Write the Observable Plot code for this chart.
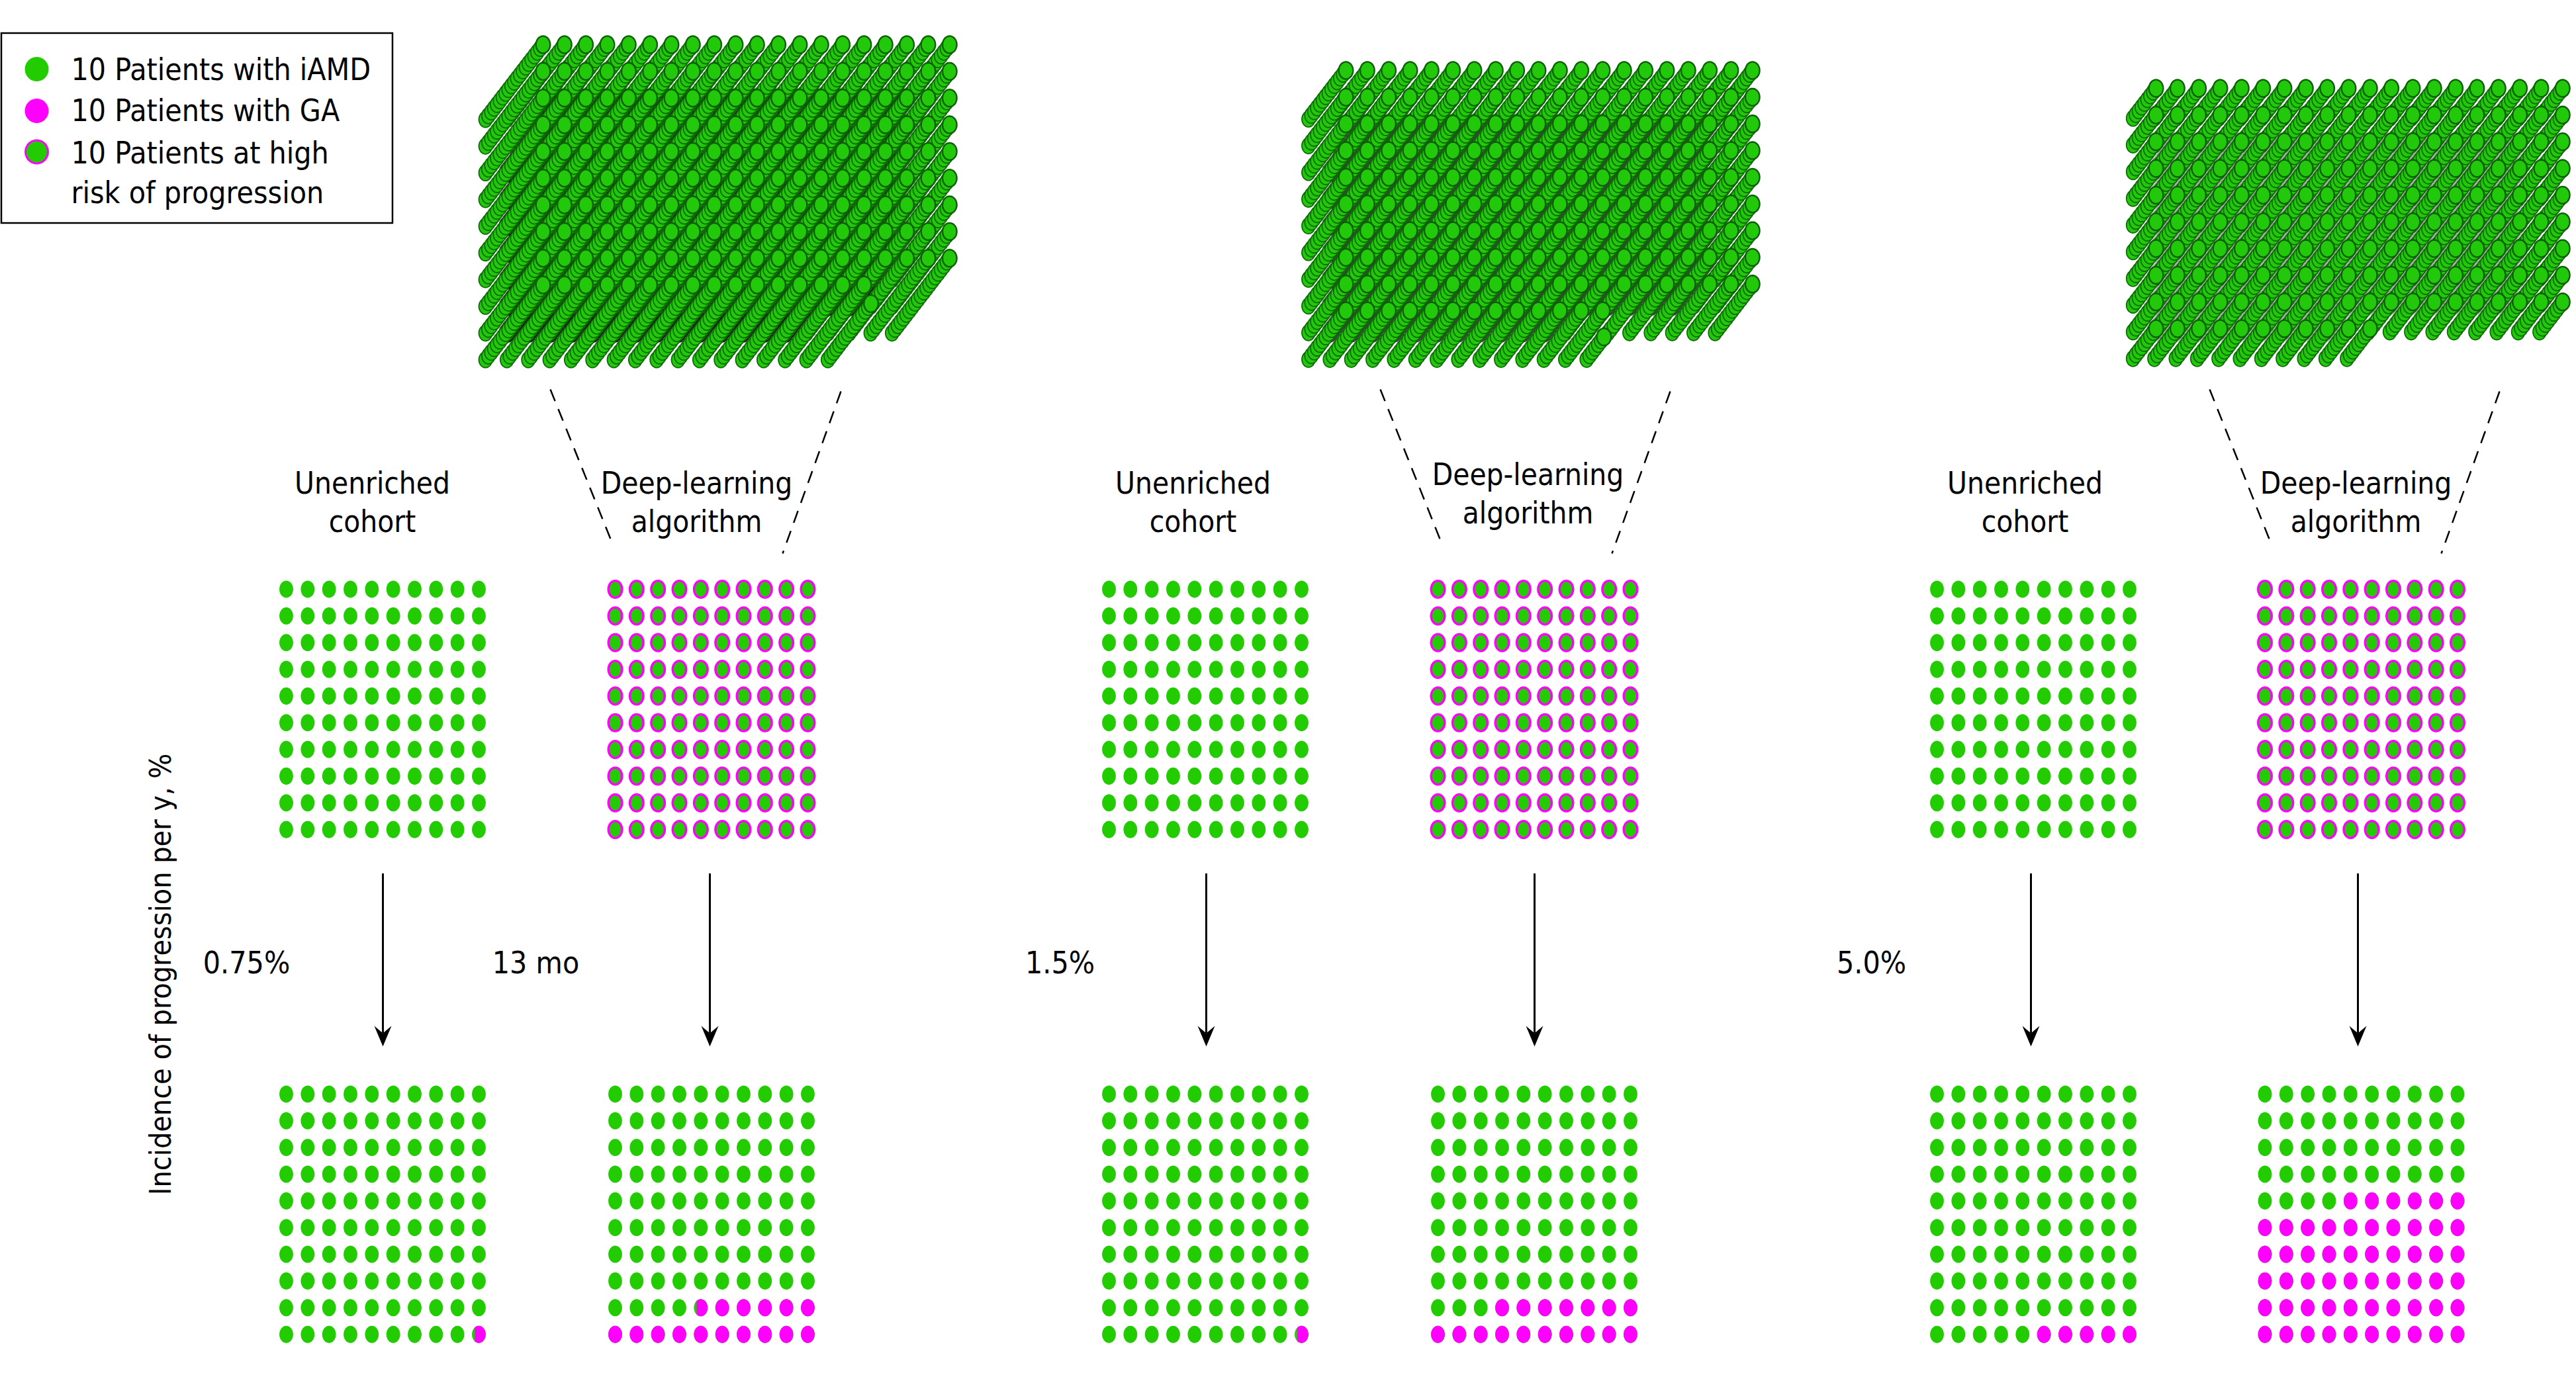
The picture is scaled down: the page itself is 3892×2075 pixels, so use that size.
<!DOCTYPE html>
<html><head><meta charset="utf-8">
<script src="https://cdn.jsdelivr.net/npm/d3@7"></script>
<script src="https://cdn.jsdelivr.net/npm/@observablehq/plot@0.6"></script>
<style>html,body{margin:0;padding:0;background:#fff;overflow:hidden}svg{display:block}</style>
</head><body><div id="chart"></div>
<script>
// ---- data ----
const cohortLabels = ["Unenriched\ncohort","Deep-learning\nalgorithm","Unenriched\ncohort","Deep-learning\nalgorithm","Unenriched\ncohort","Deep-learning\nalgorithm"];
const highRiskAtStart = [false,true,false,true,false,true];
const gaMarkersAtEnd = [1,16,1,17,5,56];
const lastMarkerPartial = [true,true,true,false,false,false];
const rateLabels = ["0.75%","13 mo","1.5%","5.0%"];
const yTitle = "Incidence of progression per y, %";
const legendLabels = ["10 Patients with iAMD","10 Patients with GA","10 Patients at high\nrisk of progression"];
const stackLayers = [21,14,9];
const stackLastRowFullColumns = [16,13,11];
const stackLastRowPartialLayers = [16,7,0];

// ---- layout ----
const W=3892,H=2075;
const gridLeft=[432,929,1675,2172,2926,3421.5], colStep=32.33, rowStep=40.35, gridTop=890, gridBottom=1653;
const arrowX=[578,1072,1822,2318,3068,3562], arrowTop=1320, arrowTip=1581;
const labelX=[562,1052,1802,2308,3059,3559], labelY=[756,756,756,743,756,756];
const rateX=[372,809,1601,2827], rateY=1456;
const stackOrigin=[[820,67],[2033,106],[3257,133]], layerStep=[-4.35,5.65], stackCols=20, stackRows=10;
const dashes=[[831,588,926,824],[1270,591,1182,836],[2085,588,2179,824],[2523,591,2435,836],[3338,588,3432,824],[3776,591,3688,836]];
const colors={green:"#22cc00",magenta:"#ff00ff",stackFill:"#22c80a",stackStroke:"#0f6a08",gap:["#141814","#3a423a","#a9b0a9"]};

// ellipse symbol (optionally cut off at the left by a vertical chord)
function ellipse(aspect,cut=-2){
  return {draw(ctx,size){
    const ry=Math.sqrt(size/Math.PI), rx=ry*aspect, n=40;
    let first=true;
    for(let i=0;i<n;i++){
      const a=2*Math.PI*i/n;
      const px=Math.max(Math.cos(a),cut)*rx, py=Math.sin(a)*ry;
      if(first){ctx.moveTo(px,py);first=false}else ctx.lineTo(px,py);
    }
    ctx.closePath();
  }};
}
const small=ellipse(0.8), smallCut=ellipse(0.8,-0.6), legendDot=ellipse(0.97), stackDot=ellipse(0.83);

// ---- build tables ----
const startDots=[],endDots=[],gaDots=[],gaCut=[];
gridLeft.forEach((left,p)=>{
  for(let r=0;r<10;r++)for(let c=0;c<10;c++){
    const x=left+c*colStep;
    startDots.push({x,y:gridTop+r*rowStep,hr:highRiskAtStart[p]});
    endDots.push({x,y:gridBottom+r*rowStep});
    const fromEnd=(9-r)*10+(9-c);
    if(fromEnd<gaMarkersAtEnd[p]) ((fromEnd===gaMarkersAtEnd[p]-1&&lastMarkerPartial[p])?gaCut:gaDots).push({x,y:gridBottom+r*rowStep});
  }
});
const stackDots=[],stackTops=[],stackGaps=[];
stackLayers.forEach((n,s)=>{
  const [ox,oy]=stackOrigin[s];
  const full=stackLastRowFullColumns[s];
  for(let k=0;k<n;k++){ // k = layer counted from the back
    const d=n-1-k;
    for(let r=0;r<stackRows;r++)for(let c=0;c<stackCols;c++){
      const isLast=r===stackRows-1;
      if(isLast){
        if(c>full)continue;
        if(c===full&&k>=stackLastRowPartialLayers[s])continue;
      }
      const dot={x:ox+c*colStep+d*layerStep[0],y:oy+r*rowStep+d*layerStep[1]};
      stackDots.push(dot);
      if(r>=2&&c>=1&&c<=17&&(r<=7||(r===8&&c<full-1))) stackGaps.push({...dot,fill:colors.gap[s]});
      const top=isLast&&c===full?stackLastRowPartialLayers[s]-1:n-1;
      if(k===top) stackTops.push(dot);
    }
  }
});
const labels=cohortLabels.map((t,i)=>({t,x:labelX[i],y:labelY[i]}));
const rates=rateLabels.map((t,i)=>({t,x:rateX[i],y:rateY}));
const arrows=arrowX.map(x=>({x}));
const legendDots=[{y:104,f:colors.green},{y:167,f:colors.magenta}];
const legendRows=[{t:legendLabels[0],y:101},{t:legendLabels[1],y:163},{t:legendLabels[2],y:257}];

const font="'DejaVu Sans Condensed','DejaVu Sans',sans-serif";
const arrowHead={draw(ctx){ctx.moveTo(-13,-31);ctx.lineTo(0,-20);ctx.lineTo(13,-31);ctx.lineTo(0,0);ctx.closePath();}};

const chart=Plot.plot({
  width:W,height:H,margin:0,
  x:{domain:[0,W],range:[0,W],axis:null},
  y:{domain:[0,H],range:[0,H],axis:null},
  style:{background:"#fff",fontFamily:font},
  marks:[
    Plot.rect([0],{x1:2,x2:593,y1:50,y2:337,fill:"none",stroke:"#000",strokeWidth:2.5}),
    Plot.dot(legendDots,{x:55,y:"y",fill:"f",r:18.5,symbol:legendDot}),
    Plot.dot([{y:229}],{x:55,y:"y",fill:colors.green,stroke:colors.magenta,strokeWidth:3,r:17.5,symbol:legendDot}),
    Plot.text(legendRows,{x:107,y:"y",text:"t",textAnchor:"start",fontSize:46,lineHeight:1.31,fill:"#000"}),

    Plot.dot(stackGaps,{x:"x",y:"y",fill:d=>d.fill,r:15,symbol:stackDot}),
    Plot.dot(stackDots,{x:"x",y:"y",fill:colors.stackFill,stroke:colors.stackStroke,strokeWidth:1.8,r:12,symbol:stackDot}),
    Plot.dot(stackTops,{x:"x",y:"y",fill:colors.stackFill,stroke:"#0d5f07",strokeWidth:2.4,r:13,symbol:stackDot}),

    Plot.link(dashes,{x1:"0",y1:"1",x2:"2",y2:"3",stroke:"#000",strokeWidth:2.5,strokeDasharray:"19,13"}),
    Plot.text(labels,{x:"x",y:"y",text:"t",fontSize:45.5,lineHeight:1.26,fill:"#000"}),

    Plot.dot(startDots.filter(d=>!d.hr),{x:"x",y:"y",fill:colors.green,r:13,symbol:small}),
    Plot.dot(startDots.filter(d=>d.hr),{x:"x",y:"y",fill:colors.green,stroke:colors.magenta,strokeWidth:3.5,r:12.8,symbol:small}),

    Plot.ruleX(arrows,{x:"x",y1:arrowTop,y2:arrowTip-20,stroke:"#000",strokeWidth:3}),
    Plot.dot(arrows,{x:"x",y:arrowTip,fill:"#000",r:10,symbol:arrowHead}),
    Plot.text(rates,{x:"x",y:"y",text:"t",fontSize:46,fill:"#000"}),
    Plot.text([yTitle],{x:243,y:1472,text:d=>d,rotate:-90,fontSize:44.4,fill:"#000"}),

    Plot.dot(endDots,{x:"x",y:"y",fill:colors.green,r:13,symbol:small}),
    Plot.dot(gaDots,{x:"x",y:"y",fill:colors.magenta,r:13,symbol:small}),
    Plot.dot(gaCut,{x:"x",y:"y",fill:colors.magenta,r:13,symbol:smallCut})
  ]
});
document.getElementById("chart").append(chart);
</script></body></html>
